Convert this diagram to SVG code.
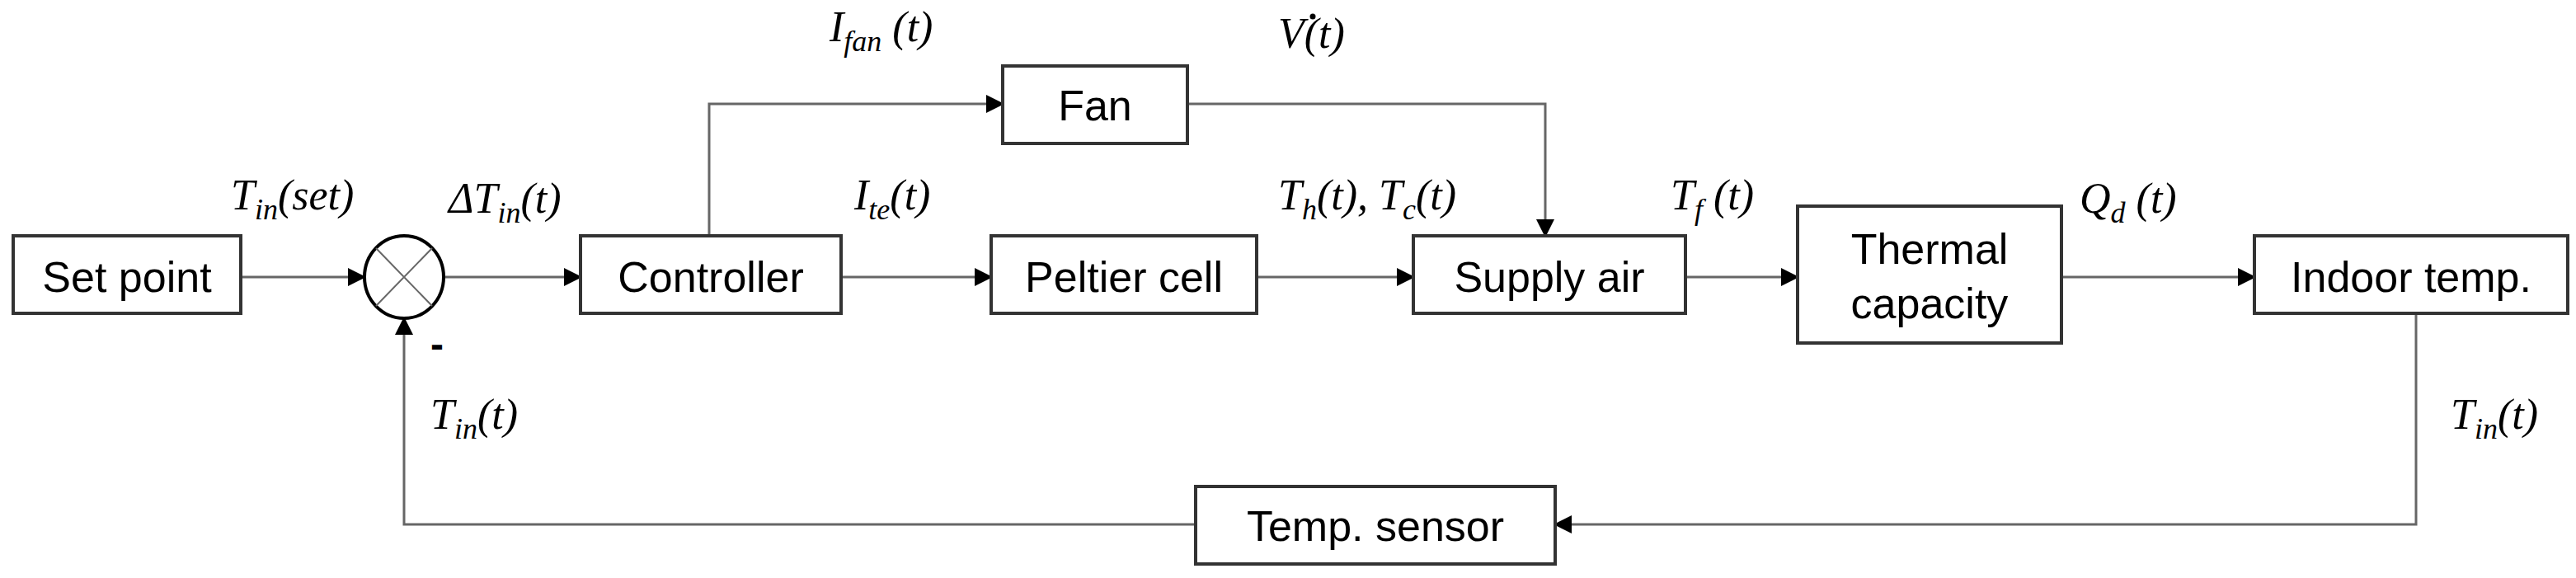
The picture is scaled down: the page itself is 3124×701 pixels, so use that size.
<svg xmlns="http://www.w3.org/2000/svg" width="3124" height="701" viewBox="0 0 3124 701">
<style>
.b{fill:#fff;stroke:#333;stroke-width:4}
.t{font-family:"Liberation Sans",Arial,sans-serif;font-size:52px;fill:#000;text-anchor:middle}
.m{font-family:"Liberation Serif","DejaVu Serif",serif;font-style:italic;font-size:52px;fill:#000}
.s{font-size:36px}
.c{fill:none;stroke:#666;stroke-width:3}
</style>
<defs>
<marker id="A" markerWidth="22" markerHeight="22" refX="20" refY="11" orient="auto" markerUnits="userSpaceOnUse"><path d="M0,0L22,11L0,22z" fill="#000"/></marker></defs>
<g id="connectors">
<path class="c" d="M292,336H442" marker-end="url(#A)"/>
<path class="c" d="M538,336H704" marker-end="url(#A)"/>
<path class="c" d="M1020,336H1202" marker-end="url(#A)"/>
<path class="c" d="M860,286V126H1216" marker-end="url(#A)"/>
<path class="c" d="M1524,336H1714" marker-end="url(#A)"/>
<path class="c" d="M1440,126H1874V286" marker-end="url(#A)"/>
<path class="c" d="M2044,336H2180" marker-end="url(#A)"/>
<path class="c" d="M2500,336H2734" marker-end="url(#A)"/>
<path class="c" d="M2930,380V636H1886" marker-end="url(#A)"/>
<path class="c" d="M1450,636H490V386" marker-end="url(#A)"/>
</g>
<g id="setpoint"><rect class="b" x="16" y="286" width="276" height="94"/><text class="t" x="154" y="354">Set point</text></g>
<g id="sum"><ellipse cx="490" cy="336" rx="48" ry="50" fill="#fff" stroke="#000" stroke-width="4"/><path d="M456,301L524,371M524,301L456,371" stroke="#666" stroke-width="2"/></g>
<g id="controller"><rect class="b" x="704" y="286" width="316" height="94"/><text class="t" x="862" y="354">Controller</text></g>
<g id="fan"><rect class="b" x="1216" y="80" width="224" height="94"/><text class="t" x="1328" y="146">Fan</text></g>
<g id="peltier"><rect class="b" x="1202" y="286" width="322" height="94"/><text class="t" x="1363" y="354">Peltier cell</text></g>
<g id="supply"><rect class="b" x="1714" y="286" width="330" height="94"/><text class="t" x="1879" y="354">Supply air</text></g>
<g id="thermal"><rect class="b" x="2180" y="250" width="320" height="166"/><text class="t" x="2340" y="320">Thermal</text><text class="t" x="2340" y="386">capacity</text></g>
<g id="indoor"><rect class="b" x="2734" y="286" width="380" height="94"/><text class="t" x="2924" y="354">Indoor temp.</text></g>
<g id="sensor"><rect class="b" x="1450" y="590" width="436" height="94"/><text class="t" x="1668" y="656">Temp. sensor</text></g>
<g id="labels">
<text class="m" x="280" y="254">T<tspan class="s" dy="12">in</tspan><tspan dy="-12">(set)</tspan></text>
<text class="m" x="544" y="258">ΔT<tspan class="s" dy="12">in</tspan><tspan dy="-12">(t)</tspan></text>
<text class="m" x="1036" y="254">I<tspan class="s" dy="12">te</tspan><tspan dy="-12">(t)</tspan></text>
<text class="m" x="1006" y="50">I<tspan class="s" dy="12">fan</tspan><tspan dy="-12"> (t)</tspan></text>
<text class="m" x="1550" y="58">V(t)</text><circle cx="1592" cy="20" r="3.5" fill="#000"/>
<text class="m" x="1550" y="254">T<tspan class="s" dy="12">h</tspan><tspan dy="-12">(t), T</tspan><tspan class="s" dy="12">c</tspan><tspan dy="-12">(t)</tspan></text>
<text class="m" x="2026" y="254">T<tspan class="s" dy="12">f</tspan><tspan dy="-12"> (t)</tspan></text>
<text class="m" x="2522" y="258">Q<tspan class="s" dy="12">d</tspan><tspan dy="-12"> (t)</tspan></text>
<text class="t" x="530" y="434" style="font-size:48px;font-weight:bold">-</text>
<text class="m" x="522" y="520">T<tspan class="s" dy="12">in</tspan><tspan dy="-12">(t)</tspan></text>
<text class="m" x="2972" y="520">T<tspan class="s" dy="12">in</tspan><tspan dy="-12">(t)</tspan></text>
</g>
</svg>
